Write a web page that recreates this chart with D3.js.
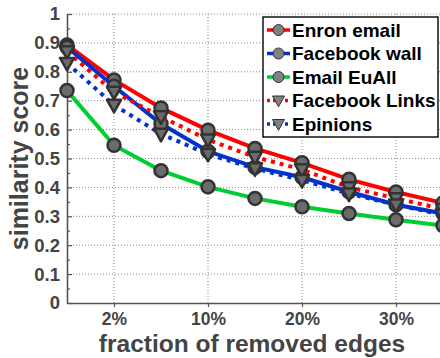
<!DOCTYPE html>
<html>
<head>
<meta charset="utf-8">
<script src="https://cdn.jsdelivr.net/npm/d3@7"></script>
<style>
  html, body { margin: 0; padding: 0; background: #fff; }
  svg { display: block; font-family: "Liberation Sans", Arial, Helvetica, sans-serif; }
</style>
</head>
<body>
<svg id="chart" width="440" height="358"></svg>
<script>
// ---------- data ----------
const categories = ["1%", "2%", "5%", "10%", "15%", "20%", "25%", "30%", "35%"];
const xTickLabels = ["2%", "10%", "20%", "30%"];
const xTickIndex = [1, 3, 5, 7];
const yTicks = [0, 0.1, 0.2, 0.3, 0.4, 0.5, 0.6, 0.7, 0.8, 0.9, 1];

const seriesNames = ["Enron email", "Facebook wall", "Email EuAll", "Facebook Links", "Epinions"];
const enronEmail    = [0.893, 0.772, 0.675, 0.598, 0.535, 0.485, 0.428, 0.384, 0.346];
const facebookWall  = [0.885, 0.750, 0.620, 0.525, 0.470, 0.435, 0.385, 0.340, 0.310];
const emailEuAll    = [0.735, 0.546, 0.458, 0.402, 0.362, 0.333, 0.310, 0.288, 0.268];
const facebookLinks = [0.870, 0.730, 0.645, 0.565, 0.505, 0.462, 0.400, 0.362, 0.325];
const epinions      = [0.830, 0.685, 0.585, 0.515, 0.465, 0.425, 0.378, 0.340, 0.305];

const seriesValues = [enronEmail, facebookWall, emailEuAll, facebookLinks, epinions];
const seriesColors = ["#ff0000", "#0033cc", "#00cc33", "#ff0000", "#0033cc"];
const seriesDash   = [null, null, null, "4,5", "4,5"];
const seriesMarker = ["circle", "circle", "circle", "triangle", "triangle"];

// ---------- layout ----------
const svg = d3.select("#chart");
const pLeft = 67, pRight = 443, pTop = 14, pBottom = 303;
const x = d3.scaleLinear().domain([0, categories.length - 1]).range([pLeft, pRight]);
const y = d3.scaleLinear().domain([0, 1]).range([pBottom, pTop]);

const gridColor = "#8a8a8a";
const axisColor = "#555";
const textColor = "#444";

// gridlines
const grid = svg.append("g");
grid.selectAll("line.h").data(yTicks.filter(d => d > 0)).enter().append("line")
  .attr("x1", pLeft).attr("x2", 440)
  .attr("y1", d => y(d)).attr("y2", d => y(d))
  .attr("stroke", gridColor).attr("stroke-width", 1).attr("stroke-dasharray", "1,2");
grid.selectAll("line.v").data(xTickIndex).enter().append("line")
  .attr("x1", d => x(d)).attr("x2", d => x(d))
  .attr("y1", pTop).attr("y2", pBottom)
  .attr("stroke", gridColor).attr("stroke-width", 1).attr("stroke-dasharray", "1,2");

// y axis
const yAxis = d3.axisLeft(y).tickValues(yTicks).tickFormat(d3.format("")).tickSizeInner(-5).tickSizeOuter(0).tickPadding(7);
const gy = svg.append("g").attr("transform", `translate(${pLeft},0)`).call(yAxis);
const yMinor = d3.axisLeft(y).tickValues(d3.range(0.05, 1, 0.1)).tickFormat("").tickSizeInner(-3).tickSizeOuter(0);
const gym = svg.append("g").attr("transform", `translate(${pLeft},0)`).call(yMinor);
gym.select(".domain").remove();

// x axis
const xAxis = d3.axisBottom(x).tickValues(xTickIndex).tickFormat((d, i) => xTickLabels[i]).tickSizeInner(4).tickSizeOuter(0).tickPadding(6);
const gx = svg.append("g").attr("transform", `translate(0,${pBottom})`).call(xAxis);

[gy, gym, gx].forEach(g => {
  g.selectAll(".domain").attr("stroke", axisColor).attr("stroke-width", 1.6);
  g.selectAll(".tick line").attr("stroke", axisColor).attr("stroke-width", 1.2);
  g.selectAll(".tick text").attr("fill", textColor).attr("font-weight", "bold")
    .attr("font-family", "'Liberation Sans', Arial, sans-serif");
});
gy.selectAll(".tick text").attr("font-size", 18.5);
gx.selectAll(".tick text").attr("font-size", 17.5);

// axis titles
svg.append("text").text("fraction of removed edges")
  .attr("x", 252).attr("y", 352).attr("text-anchor", "middle")
  .attr("font-size", 24.5).attr("font-weight", "bold").attr("fill", textColor);
svg.append("text").text("similarity score")
  .attr("transform", `translate(28,${(pTop + pBottom) / 2}) rotate(-90)`)
  .attr("text-anchor", "middle")
  .attr("font-size", 25).attr("font-weight", "bold").attr("fill", textColor);

// series
const line = d3.line().x((d, i) => x(i)).y(d => y(d));
function triPath(r) {
  return `M${-r},${-r * 0.75}L${r},${-r * 0.75}L0,${r * 1.05}Z`;
}
seriesValues.forEach((vals, s) => {
  const g = svg.append("g");
  g.append("path").datum(vals).attr("d", line)
    .attr("fill", "none").attr("stroke", seriesColors[s]).attr("stroke-width", 4)
    .attr("stroke-dasharray", seriesDash[s]);
  if (seriesMarker[s] === "circle") {
    g.selectAll("circle").data(vals).enter().append("circle")
      .attr("cx", (d, i) => x(i)).attr("cy", d => y(d)).attr("r", 6.5)
      .attr("fill", "#6b6b6b").attr("stroke", "#333").attr("stroke-width", 2.5);
  } else {
    g.selectAll("path.m").data(vals).enter().append("path").attr("class", "m")
      .attr("d", triPath(7))
      .attr("transform", (d, i) => `translate(${x(i)},${y(d)})`)
      .attr("fill", "#6b6b6b").attr("stroke", "#333").attr("stroke-width", 2.5)
      .attr("stroke-linejoin", "round");
  }
});

// legend
const lg = svg.append("g");
lg.append("rect").attr("x", 263).attr("y", 17).attr("width", 175).attr("height", 120)
  .attr("fill", "#fff").attr("stroke", "#000").attr("stroke-width", 1.4);
seriesNames.forEach((name, s) => {
  const cy = 30 + s * 23.5;
  lg.append("line").attr("x1", 267).attr("x2", 290).attr("y1", cy).attr("y2", cy)
    .attr("stroke", seriesColors[s]).attr("stroke-width", 3.5)
    .attr("stroke-dasharray", seriesDash[s] ? "3,3" : null);
  if (seriesMarker[s] === "circle") {
    lg.append("circle").attr("cx", 278.5).attr("cy", cy).attr("r", 5.5)
      .attr("fill", "#808080").attr("stroke", "#333").attr("stroke-width", 1);
  } else {
    lg.append("path").attr("d", triPath(6)).attr("transform", `translate(278.5,${cy})`)
      .attr("fill", "#808080").attr("stroke", "#333").attr("stroke-width", 1);
  }
  lg.append("text").text(name).attr("x", 292).attr("y", cy + 6.5)
    .attr("font-size", 19).attr("font-weight", "bold").attr("fill", "#000");
});
</script>
</body>
</html>
